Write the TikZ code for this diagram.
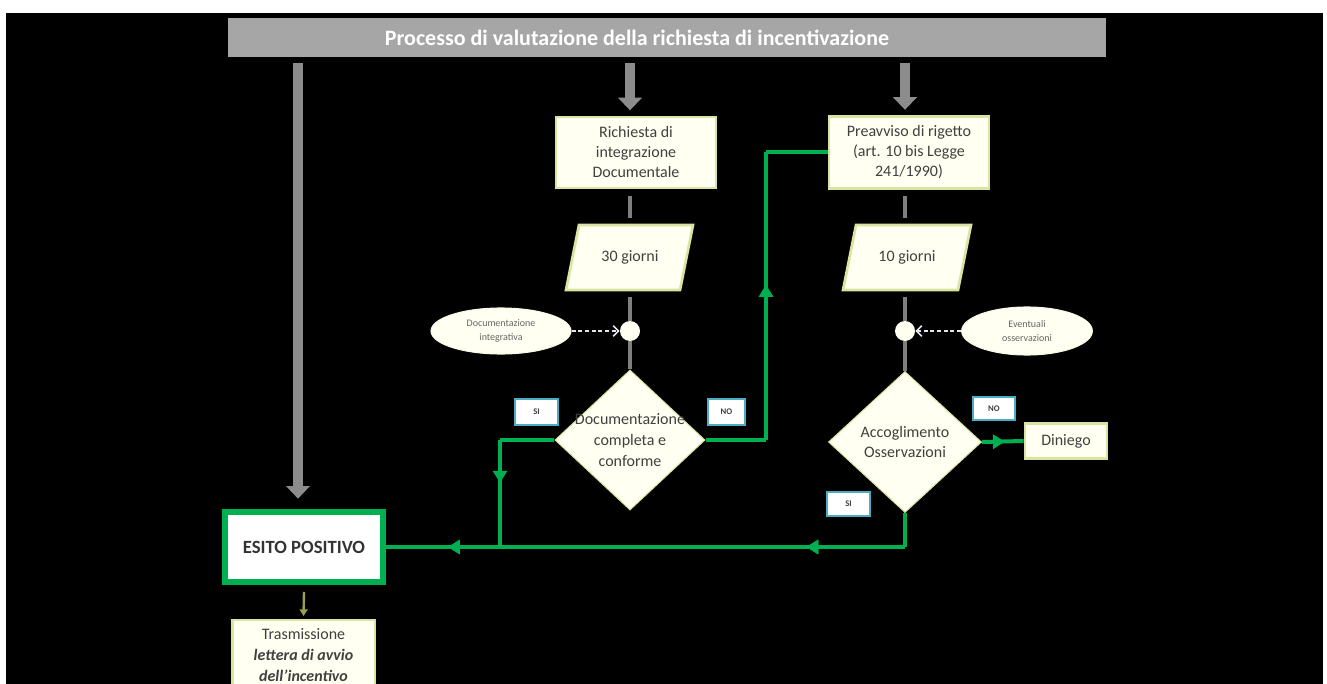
\documentclass[tikz,border=0pt]{standalone}
\usepackage{fontspec}
\setmainfont{Carlito}
\usetikzlibrary{arrows.meta,decorations.markings,shapes.geometric}
\definecolor{gbar}{HTML}{A6A6A6}
\definecolor{garrow}{HTML}{8C8C8C}
\definecolor{gconnc}{HTML}{7F7F7F}
\definecolor{glinec}{HTML}{00B050}
\definecolor{cream}{HTML}{FFFFF2}
\definecolor{boxedge}{HTML}{D8E4A0}
\definecolor{tdark}{HTML}{404040}
\definecolor{lblue}{HTML}{4BACC6}
\definecolor{olivec}{HTML}{9BA04A}
\tikzset{
  procbox/.style={draw=boxedge, line width=2pt, fill=cream, text=tdark,
    font=\fontsize{12}{15}\selectfont, align=center, inner sep=0pt},
  plaintext/.style={text=tdark, font=\fontsize{12}{15.5}\selectfont, align=center, inner sep=0pt},
  garr/.style={draw=garrow, line width=7.5pt, -{Triangle[width=17.5pt,length=9.5pt]}},
  gconn/.style={draw=gconnc, line width=3pt},
  gl/.style={draw=glinec, line width=3pt},
  midarr/.style={postaction={decorate}, decoration={markings,
      mark=at position #1 with {\arrow{Triangle[width=10.5pt,length=9pt]}}}},
  lbl/.style={draw=lblue, line width=1.5pt, fill=white, text=tdark,
    font=\bfseries\fontsize{6.5}{8}\selectfont, inner sep=0pt},
  ell/.style={ellipse, fill=cream, draw=cream!80!boxedge, line width=0.8pt, inner sep=0pt,
    text=black!60, font=\fontsize{7.5}{10}\selectfont, align=center},
  dasharr/.style={draw=white!80!gray, line width=1.2pt, dash pattern=on 3pt off 2pt,
    -{Straight Barb[length=4pt,width=8pt]}},
  junc/.style={circle, fill=cream, minimum size=15pt, inner sep=0pt},
  decis/.style={diamond, fill=cream, draw=boxedge, line width=0.8pt, inner sep=0pt},
}
\begin{document}
\begin{tikzpicture}[x=0.75pt,y=-0.75pt]
\fill[white] (0,0) rectangle (1327,684);
\useasboundingbox (0,0) rectangle (1327,684);
\fill[black] (6,13) rectangle (1323,684);
\begin{scope}
\clip (6,13) rectangle (1323,684);

% column coordinates
\coordinate (colL) at (298,0);
\coordinate (colM) at (630,0);
\coordinate (colR) at (905,0);

% banner
\node[fill=gbar, minimum width=658.5pt, minimum height=29.25pt, inner sep=0pt] (ban) at (667,37.5) {};
\node[text=white, font=\bfseries\fontsize{16.5}{18}\selectfont, inner sep=0pt] (bantext) at (637,38)
  {Processo di valutazione della richiesta di incentivazione};

% process boxes
\node[procbox, minimum width=120pt, minimum height=53.25pt] (ric) at (636,152.5)
  {Richiesta di\\integrazione\\Documentale};
\node[procbox, minimum width=120pt, minimum height=54pt] (pre) at (909,152.5)
  {Preavviso di rigetto\\(art. 10 bis Legge\\241/1990)};

% parallelograms
\fill[cream, draw=boxedge, line width=2pt] (566,290) -- (680,290) -- (693,225) -- (579,225) -- cycle;
\node[plaintext, minimum height=48.75pt] (g30) at (630,257.5) {30 giorni};
\fill[cream, draw=boxedge, line width=2pt] (843,290) -- (958,290) -- (971,225) -- (856,225) -- cycle;
\node[plaintext, minimum height=48.75pt] (g10) at (907,257.5) {10 giorni};

% junctions
\node[junc] (j1) at (630,331) {};
\node[junc] (j2) at (905,331) {};

% ellipses
\node[ell, minimum width=105pt, minimum height=34.5pt] (e1) at (501,331) {Documentazione\\integrativa};
\node[ell, minimum width=98pt, minimum height=36pt] (e2) at (1027,331) {Eventuali\\osservazioni};

% decisions
\node[decis, minimum width=112.5pt, minimum height=105pt] (d1) at (630,440) {};
\node[plaintext] (d1t) at (d1.center) {Documentazione\\completa e\\conforme};
\node[decis, minimum width=114.75pt, minimum height=105.75pt] (d2) at (905,442) {};
\node[plaintext] (d2t) at (d2.center) {Accoglimento\\Osservazioni};

% outcome boxes
\node[procbox, minimum width=61.5pt, minimum height=26.25pt] (din) at (1066,441) {Diniego};
\node[draw=glinec, line width=4.5pt, fill=white, minimum width=118pt, minimum height=53pt,
  inner sep=0pt, text=black!80, font=\bfseries\fontsize{14}{16}\selectfont] (esito) at (304,547) {ESITO POSITIVO};
\node[procbox, minimum width=107pt, minimum height=75pt] (tra) at (303.5,670) {};
\node[plaintext] (trat) at (303.5,655) {Trasmissione\\\textbf{\textit{lettera di avvio}}\\\textbf{\textit{dell'incentivo}}};

% labels
\node[lbl, minimum width=32pt, minimum height=19.5pt] (si1) at (536.5,411.5) {SI};
\node[lbl, minimum width=28pt, minimum height=19.5pt] (no1) at (726.5,411.5) {NO};
\node[lbl, minimum width=31.5pt, minimum height=17.5pt] (no2) at (994,408.5) {NO};
\node[lbl, minimum width=32pt, minimum height=18pt] (si2) at (848.5,504) {SI};

% gray arrows from banner
\draw[garr] ([yshift=-4.5pt]ban.south -| colL) -- ([yshift=7.5pt]esito.north -| colL);
\draw[garr] ([yshift=-4.5pt]ban.south -| colM) -- ([yshift=4pt]ric.north -| colM);
\draw[garr] ([yshift=-4.5pt]ban.south -| colR) -- ([yshift=4pt]pre.north -| colR);

% gray connectors
\draw[gconn] ([yshift=-5pt]ric.south -| colM) -- ([yshift=5pt]g30.north -| colM);
\draw[gconn] ([yshift=-5pt]g30.south -| colM) -- (j1);
\draw[gconn] (j1) -- (d1.north);
\draw[gconn] ([yshift=-5pt]pre.south -| colR) -- ([yshift=5pt]g10.north -| colR);
\draw[gconn] ([yshift=-5pt]g10.south -| colR) -- (j2);
\draw[gconn] (j2) -- (d2.north);

% dashed inputs
\draw[dasharr] (e1.east) -- (j1.west);
\draw[dasharr] (e2.west) -- (j2.east);

% green flow
\coordinate (cL) at (500,440);
\coordinate (jA) at (500,547);
\coordinate (cR) at (905,547);
\coordinate (cN1) at (766,440);
\coordinate (cN2) at (766,152.5);
\draw[gl] (d1.west) -- (cL);
\draw[gl, midarr=0.4] (cL) -- (jA);
\draw[gl] (d2.south) -- (cR);
\draw[gl, midarr=0.19, midarr=0.88] (cR) -- (esito.east);
\draw[gl] (d1.east) -- (cN1);
\draw[gl, midarr=0.54] (cN1) -- (cN2);
\draw[gl] (cN2) -- (pre.west);
\draw[gl, midarr=0.55] (d2.east) -- (din.west);

% olive arrow
\draw[draw=olivec, line width=1.8pt, -{Triangle[width=6pt,length=5pt]}]
  ([yshift=-5pt]esito.south) -- ([yshift=2pt]tra.north);
\end{scope}
\end{tikzpicture}
\end{document}
